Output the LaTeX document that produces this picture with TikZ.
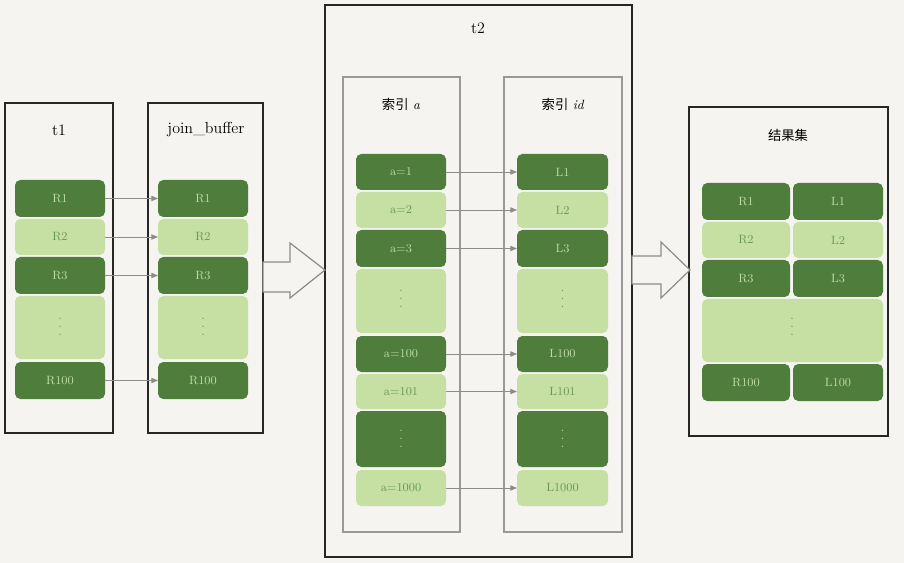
\documentclass[tikz,border=0pt]{standalone}
\usepackage{fontspec}
\newfontfamily\cjk{Noto Sans CJK SC}
\usetikzlibrary{arrows.meta}
\definecolor{bg}{HTML}{F5F4F0}
\definecolor{dk}{HTML}{4E7D3C}
\definecolor{lg}{HTML}{C6DFA2}
\definecolor{dktx}{HTML}{BFDDA5}
\definecolor{lttx}{HTML}{6A9A52}
\newcommand{\vdt}{\shortstack{.\\[2pt].\\[2pt].}}
\tikzset{
 box/.style={draw=black!85,line width=1.3pt},
 ibox/.style={draw=black!40,line width=1pt},
 dt/.style={text=dktx,font=\small},
 ltx/.style={text=lttx,font=\small},
 vd/.style={inner sep=0pt},
 con/.style={draw=black!45,line width=0.7pt,-{Triangle[length=5pt,width=4pt]}},
 big/.style={draw=black!45,line width=0.9pt,fill=bg},
 ttl/.style={font=\large}
}
\begin{document}
\begin{tikzpicture}[x=0.75pt,y=-0.75pt]
\fill[bg] (0,0) rectangle (904,563);
\useasboundingbox (0,0) rectangle (904,563);
\draw[box] (5,103) rectangle (113,433);
\draw[box] (148,103) rectangle (263,433);
\draw[box] (325,5) rectangle (632,557);
\draw[ibox] (343,77) rectangle (460,532);
\draw[ibox] (504,77) rectangle (622,532);
\draw[box] (689,107) rectangle (888,436);
\node[ttl] (tt1) at (59,130) {t1};
\node[ttl] (tjb) at (206,130) {join\_buffer};
\node[ttl] (tt2) at (478,28) {t2};
\node (tia) at (401,104) {{\cjk 索引} \textit{a}};
\node (tid) at (563,104) {{\cjk 索引} \textit{id}};
\node (tres) at (788,135) {\cjk 结果集};
\foreach \xa/\xb/\p in {15/105/a,158/248/b}{
 \fill[dk,rounded corners=4pt] (\xa,180) rectangle (\xb,217);
 \fill[lg,rounded corners=4pt] (\xa,219) rectangle (\xb,255);
 \fill[dk,rounded corners=4pt] (\xa,257) rectangle (\xb,294);
 \fill[lg,rounded corners=4pt] (\xa,296) rectangle (\xb,359);
 \fill[dk,rounded corners=4pt] (\xa,362) rectangle (\xb,399);
 \node[dt] (\p1) at ({(\xa+\xb)/2},198.5) {R1};
 \node[ltx] (\p2) at ({(\xa+\xb)/2},237) {R2};
 \node[dt] (\p3) at ({(\xa+\xb)/2},275.5) {R3};
 \node[ltx,vd] (\p4) at ({(\xa+\xb)/2},327) {\vdt};
 \node[dt] (\p5) at ({(\xa+\xb)/2},380.5) {R100};
}
\foreach \i in {1,2,3,5}{\draw[con] (105,0 |- a\i) -- (158,0 |- b\i);}
\foreach \xa/\xb/\p/\la/\lb/\lc/\ld/\le/\lf in {356/446/c/a=1/a=2/a=3/a=100/a=101/a=1000,517/608/d/L1/L2/L3/L100/L101/L1000}{
 \fill[dk,rounded corners=4pt] (\xa,154) rectangle (\xb,190);
 \fill[lg,rounded corners=4pt] (\xa,192) rectangle (\xb,228);
 \fill[dk,rounded corners=4pt] (\xa,230) rectangle (\xb,267);
 \fill[lg,rounded corners=4pt] (\xa,269) rectangle (\xb,333);
 \fill[dk,rounded corners=4pt] (\xa,336) rectangle (\xb,372);
 \fill[lg,rounded corners=4pt] (\xa,374) rectangle (\xb,409);
 \fill[dk,rounded corners=4pt] (\xa,411) rectangle (\xb,467);
 \fill[lg,rounded corners=4pt] (\xa,470) rectangle (\xb,506);
 \node[dt] (\p1) at ({(\xa+\xb)/2},172) {\la};
 \node[ltx] (\p2) at ({(\xa+\xb)/2},210) {\lb};
 \node[dt] (\p3) at ({(\xa+\xb)/2},248.5) {\lc};
 \node[ltx,vd] (\p4) at ({(\xa+\xb)/2},299) {\vdt};
 \node[dt] (\p5) at ({(\xa+\xb)/2},354) {\ld};
 \node[ltx] (\p6) at ({(\xa+\xb)/2},391.5) {\le};
 \node[dt,vd] (\p7) at ({(\xa+\xb)/2},439) {\vdt};
 \node[ltx] (\p8) at ({(\xa+\xb)/2},488) {\lf};
}
\foreach \i in {1,2,3,5,6,8}{\draw[con] (446,0 |- c\i) -- (517,0 |- d\i);}
\foreach \xa/\xb/\p/\ra/\rb/\rc/\rd in {702/790/e/R1/R2/R3/R100,793/883/f/L1/L2/L3/L100}{
 \fill[dk,rounded corners=4pt] (\xa,183) rectangle (\xb,220);
 \fill[lg,rounded corners=4pt] (\xa,222) rectangle (\xb,258);
 \fill[dk,rounded corners=4pt] (\xa,260) rectangle (\xb,297);
 \fill[dk,rounded corners=4pt] (\xa,364) rectangle (\xb,401);
 \node[dt] (\p1) at ({(\xa+\xb)/2},201.5) {\ra};
 \node[ltx] (\p2) at ({(\xa+\xb)/2},240) {\rb};
 \node[dt] (\p3) at ({(\xa+\xb)/2},278.5) {\rc};
 \node[dt] (\p5) at ({(\xa+\xb)/2},382.5) {\rd};
}
\fill[lg,rounded corners=4pt] (702,299) rectangle (883,362);
\node[ltx,vd] (g4) at (792,327) {\vdt};
\draw[big] (263,262) -- (290,262) -- (290,243) -- (325,270) -- (290,298) -- (290,292) -- (263,292) -- cycle;
\draw[big] (632,256) -- (661,256) -- (661,242) -- (690,270) -- (661,298) -- (661,284) -- (632,284) -- cycle;
\end{tikzpicture}
\end{document}
